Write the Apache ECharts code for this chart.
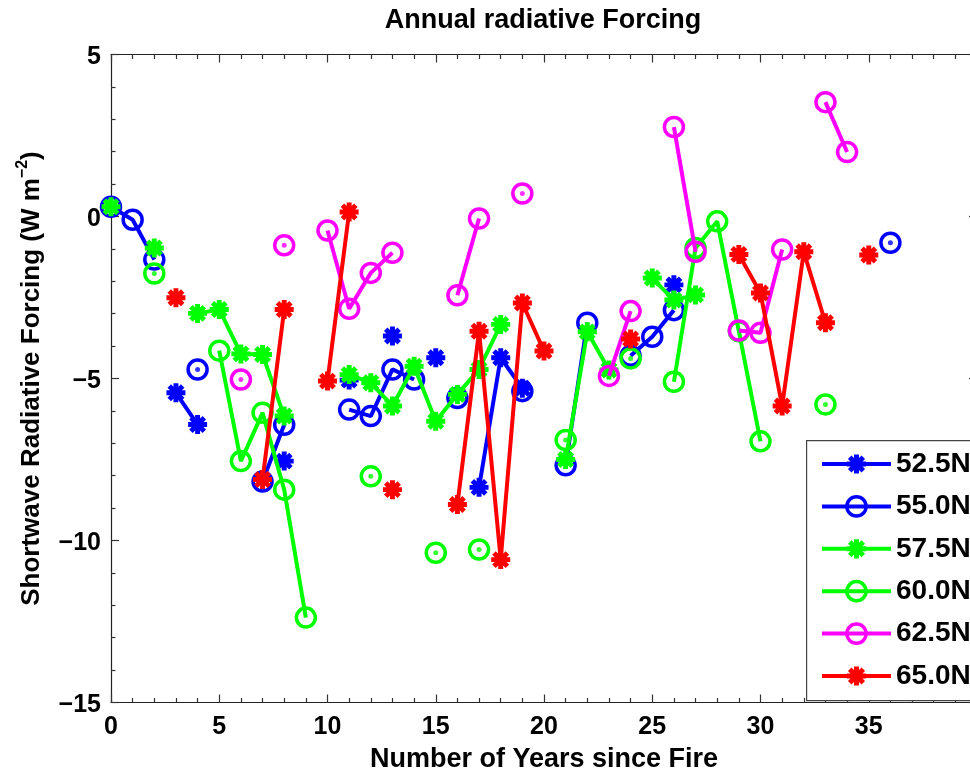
<!DOCTYPE html>
<html>
<head>
<meta charset="utf-8">
<script src="https://cdn.jsdelivr.net/npm/echarts@6/dist/echarts.min.js"></script>
<style>
html,body{margin:0;padding:0;background:#fff;overflow:hidden;width:970px;height:774px;}
#chart{width:1000px;height:774px;}
</style>
</head>
<body>
<div id="chart"></div>
<script>
// Years since fire (x positions of the data arrays)
const years = [0,1,2,3,4,5,6,7,8,9,10,11,12,13,14,15,16,17,18,19,20,21,22,23,24,25,26,27,28,29,30,31,32,33,34,35,36];
const seriesNames = ['52.5N','55.0N','57.5N','60.0N','62.5N','65.0N'];
const xTicks = [0,5,10,15,20,25,30,35];
const yTicks = [-15,-10,-5,0,5];
const N = null;
//            0     1     2     3     4     5     6     7     8     9    10    11    12    13    14    15    16    17    18    19    20    21    22    23    24    25    26    27    28    29    30    31    32    33    34    35    36
const s525 = [N,    N,    N,    -5.44,-6.42,N,    N,    N,    -7.55,N,    N,    -5.05,N,    -3.69,N,    -4.36,N,    -8.36,-4.36,-5.3, N,    N,    N,    N,    N,    N,    -2.11,N,    N,    N,    N,    N,    N,    N,    N,    N,    N];
const s550 = [0.3,  -0.1, -1.33,N,    -4.72,N,    N,    -8.18,-6.43,N,    N,    -5.96,-6.16,-4.72,-5.03,N,    -5.6, N,    N,    -5.39,N,    -7.68,-3.28,N,    -4.3, -3.71,-2.89,N,    N,    N,    N,    N,    N,    N,    N,    N,    -0.81];
const s575 = [0.3,  N,    -0.97,N,    -2.99,-2.87,-4.24,-4.26,-6.16,N,    N,    -4.88,-5.13,-5.85,-4.62,-6.32,-5.49,-4.72,-3.33,N,    N,    -7.5, -3.56,-4.74,N,    -1.9, -2.58,-2.42,N,    N,    N,    N,    N,    N,    N,    N,    N];
const s600 = [N,    N,    -1.76,N,    N,    -4.14,-7.55,-6.06,-8.43,-12.38,N,   N,    -8.02,N,    N,    -10.38,N,   -10.28,N,   N,    N,    -6.9, N,    N,    -4.38,N,    -5.1, -0.97,-0.15,-3.54,-6.94,N,    N,    -5.8, N,    N,    N];
const s625 = [N,    N,    N,    N,    N,    N,    -5.03,N,    -0.89,N,    -0.43,-2.85,-1.74,-1.12,N,    N,    -2.43,-0.06,N,    0.71, N,    N,    N,    -4.92,-2.92,N,    2.76, -1.09,N,    -3.52,-3.59,-1.02,N,    3.53, 1.99, N,    N];
const s650 = [N,    N,    N,    -2.51,N,    N,    N,    -8.12,-2.87,N,    -5.08,0.14, N,    -8.43,N,    N,    -8.89,-3.54,-10.59,-2.67,-4.15,N,   N,    N,    -3.78,N,    N,    N,    N,    -1.17,-2.36,-5.85,-1.09,-3.28,N,    -1.19,N];

const values = [s525, s550, s575, s600, s625, s650];
const colors = ['#0000ff','#0000ff','#00ff00','#00ff00','#ff00ff','#ff0000'];
const markers = ['star','circle','star','circle','circle','star'];

// asterisk-like marker (8 thick spokes + hub), unit box [-1,1]
function asteriskPath(){
  const w = 0.26;
  let p = '';
  for (let k = 0; k < 4; k++){
    const a = k*Math.PI/4, ca = Math.cos(a), sa = Math.sin(a);
    const pts = [[-1,-w],[1,-w],[1,w],[-1,w]].map(([u,v]) => [u*ca - v*sa, u*sa + v*ca]);
    p += 'M' + pts.map(q => q[0].toFixed(3)+' '+q[1].toFixed(3)).join(' L') + ' Z ';
  }
  let hub = [];
  for (let k = 0; k < 16; k++){ const a = k*Math.PI/8; hub.push([0.62*Math.cos(a), 0.62*Math.sin(a)]); }
  p += 'M' + hub.map(q => q[0].toFixed(3)+' '+q[1].toFixed(3)).join(' L') + ' Z';
  return 'path://' + p;
}
const AST = asteriskPath();
const FONT = 'Liberation Sans, Arial, Helvetica, sans-serif';
const LW = 4;

const series = [];
const legendData = [];
values.forEach((vals, si) => {
  const isStar = markers[si] === 'star';
  const itemStyle = isStar
      ? { color: colors[si], borderWidth: 0 }
      : { color: 'rgba(255,255,255,0)', borderColor: colors[si], borderWidth: 3.5 };
  series.push({
    name: seriesNames[si],
    type: 'line',
    data: years.map((x, i) => [x, vals[i]]),
    connectNulls: false,
    symbol: isStar ? AST : 'circle',
    symbolSize: 19,
    showAllSymbol: true,
    lineStyle: { color: colors[si], width: LW },
    itemStyle: itemStyle,
    emphasis: { disabled: true },
    z: 2 + si*2
  });
  legendData.push({
    name: seriesNames[si],
    lineStyle: { color: colors[si], width: LW },
    itemStyle: itemStyle
  });
  if (!isStar) {
    // isolated circle points show a centre dot
    const dots = [];
    vals.forEach((v, i) => {
      if (v !== null && (i === 0 || vals[i-1] === null) && (i === vals.length-1 || vals[i+1] === null)) dots.push([years[i], v]);
    });
    series.push({
      name: seriesNames[si] + ' dot',
      type: 'scatter',
      data: dots,
      symbol: 'circle',
      symbolSize: 5,
      itemStyle: { color: colors[si] },
      emphasis: { disabled: true },
      z: 3 + si*2
    });
  }
});

const chart = echarts.init(document.getElementById('chart'), null, { renderer: 'canvas' });
const axisCommon = {
  type: 'value',
  interval: 5,
  axisLine: { show: true, onZero: false, lineStyle: { color: '#222', width: 1.2 } },
  axisTick: { show: true, inside: true, length: 8, lineStyle: { color: '#333', width: 1.2 } },
  minorTick: { show: true, splitNumber: 5, length: 4.5, lineStyle: { color: '#333', width: 1.2 } },
  splitLine: { show: false }
};
chart.setOption({
  animation: false,
  backgroundColor: '#fff',
  title: {
    text: 'Annual radiative Forcing',
    left: 538, textAlign: 'center', top: 2,
    textStyle: { fontFamily: FONT, fontWeight: 'bold', fontSize: 27, color: '#000' }
  },
  grid: { left: 111, top: 54.5, width: 866, height: 648, containLabel: false, outerBoundsMode: 'none' },
  graphic: [{
    type: 'rect', left: 806, top: 440, z: 30,
    shape: { width: 200, height: 260 },
    style: { fill: '#fff', stroke: '#444', lineWidth: 1.2 }
  }],
  legend: {
    data: legendData,
    orient: 'vertical',
    left: 806, top: 440,
    padding: [10, 14, 12, 14],
    itemWidth: 69, itemHeight: 24, itemGap: 14.4,
    backgroundColor: 'rgba(0,0,0,0)',
    borderWidth: 0,
    textStyle: { fontFamily: FONT, fontWeight: 'bold', fontSize: 28, color: '#000', lineHeight: 28 },
    selectedMode: false,
    z: 40
  },
  xAxis: [
    Object.assign({}, axisCommon, {
      min: 0, max: 40, position: 'bottom',
      name: 'Number of Years since Fire', nameLocation: 'middle', nameGap: 44,
      nameTextStyle: { fontFamily: FONT, fontWeight: 'bold', fontSize: 27, color: '#000' },
      axisLabel: { show: true, margin: 12, fontFamily: FONT, fontWeight: 'bold', fontSize: 25, color: '#000',
        formatter: v => xTicks.indexOf(v) >= 0 ? String(v) : '' }
    }),
    Object.assign({}, axisCommon, {
      min: 0, max: 40, position: 'top', axisLabel: { show: false }
    })
  ],
  yAxis: [
    Object.assign({}, axisCommon, {
      min: -15, max: 5, position: 'left',
      name: '{a|Shortwave Radiative Forcing (W m}{sup|−2}{a|)}',
      nameLocation: 'middle', nameGap: 66, nameRotate: 90, nameMoveOverlap: false,
      nameTextStyle: {
        rich: {
          a: { fontFamily: FONT, fontWeight: 'bold', fontSize: 26, color: '#000', lineHeight: 30, verticalAlign: 'bottom' },
          sup: { fontFamily: FONT, fontWeight: 'bold', fontSize: 16, color: '#000', lineHeight: 30, verticalAlign: 'top' }
        }
      },
      axisLabel: { show: true, margin: 10, fontFamily: FONT, fontWeight: 'bold', fontSize: 25, color: '#000',
        formatter: v => yTicks.indexOf(v) >= 0 ? '{v|' + String(v).replace('-', '\u2212') + '}' : '',
        rich: { v: { fontFamily: FONT, fontWeight: 'bold', fontSize: 25, color: '#000', padding: [5, 0, 0, 0] } } }
    }),
    Object.assign({}, axisCommon, {
      min: -15, max: 5, position: 'right', axisLabel: { show: false }
    })
  ],
  series: series
});
</script>
</body>
</html>
